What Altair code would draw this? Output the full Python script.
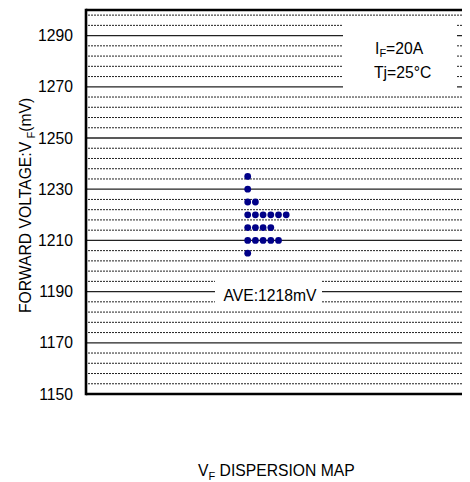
import altair as alt
import pandas as pd

# ---- data ----
vf_values = [1235, 1230, 1225, 1220, 1215, 1210, 1205]   # mV
vf_counts = [1, 1, 2, 6, 4, 5, 1]                           # dots per row
ave_mv = 1218

y_ticks = [1150, 1170, 1190, 1210, 1230, 1250, 1270, 1290]
grid_major = [1170, 1190, 1210, 1230, 1250, 1270, 1290]
grid_minor = [1154, 1158, 1162, 1166, 1174, 1178, 1182, 1186,
              1194, 1198, 1202, 1206, 1214, 1218, 1222, 1226,
              1234, 1238, 1242, 1246, 1254, 1258, 1262, 1266,
              1274, 1278, 1282, 1286, 1294, 1298]

rows = []
for v, c in zip(vf_values, vf_counts):
    for k in range(c):
        rows.append({"col": k, "vf": v})
pts = pd.DataFrame(rows)

W, H = 376, 384
FONT = "Liberation Sans"
FS = 15.7
SUB = 11

yscale = alt.Scale(domain=[1150, 1300], nice=False, zero=False)
yaxis = alt.Axis(
    values=y_ticks, format="d", grid=False, ticks=False, tickSize=0, domain=False,
    labelFont=FONT, labelFontSize=FS, labelColor="black", labelPadding=13.5,
    title=None)
one = pd.DataFrame({"a": [0]})

minor = alt.Chart(pd.DataFrame({"vf": grid_minor})).mark_rule(
    color="#222", strokeWidth=1, strokeDash=[2, 1]
).encode(y=alt.Y("vf:Q", scale=yscale, axis=yaxis))

major = alt.Chart(pd.DataFrame({"vf": grid_major})).mark_rule(
    color="#222", strokeWidth=1.3
).encode(y=alt.Y("vf:Q", scale=yscale, axis=yaxis))

def box(x1, x2, y1, y2):
    return alt.Chart(one).mark_rect(color="white").encode(
        x=alt.value(x1), x2=alt.value(x2), y=alt.value(y1), y2=alt.value(y2))

legend_box = box(257, 371, 9, 82)
ave_box = box(129, 236, 267, 296)

points = alt.Chart(pts).mark_circle(size=46, color="#000088", opacity=1).encode(
    x=alt.X("col:Q", scale=alt.Scale(domain=[-21, 27.83], nice=False, zero=False), axis=None),
    y=alt.Y("vf:Q", scale=yscale, axis=yaxis),
)

def txt(s, x, y, size=FS, align="left", angle=0):
    return alt.Chart(one).mark_text(
        text=s, font=FONT, fontSize=size, color="black", align=align,
        baseline="alphabetic", angle=angle
    ).encode(x=alt.value(x), y=alt.value(y))

texts = [
    # legend
    txt("I", 289, 43.5),
    txt("F", 293.4, 47, size=SUB),
    txt("=20A", 300.1, 43.5),
    txt("Tj=25°C", 288, 68),
    # average label
    txt(f"AVE:{ave_mv}mV", 184, 291, align="center"),
    # y title (rotated)
    txt("FORWARD VOLTAGE:V", -55, 303, angle=270),
    txt("F", -51.5, 128.5, size=SUB, angle=270),
    txt("(mV)", -55, 121.8, angle=270),
    # bottom title
    txt("V", 112, 466),
    txt("F", 122.5, 469.5, size=SUB),
    txt("DISPERSION MAP", 133.6, 466),
]

def rule(**kw):
    return alt.Chart(one).mark_rule(color="black", strokeWidth=2.6).encode(
        **{k: alt.value(v) for k, v in kw.items()})

borders = [
    rule(x=0, y=-1.3, y2=H + 1.3),
    rule(y=0, x=0, x2=W),
    rule(y=H, x=0, x2=W),
]

chart = alt.layer(
    minor, major, legend_box, ave_box, points, *texts, *borders
).properties(
    width=W, height=H,
    autosize=alt.AutoSizeParams(type="none"),
    padding={"left": 78, "top": 2, "right": 0, "bottom": 88},
).configure_view(stroke=None)

chart.save("out.html", embed_options={"renderer": "svg", "actions": False})
